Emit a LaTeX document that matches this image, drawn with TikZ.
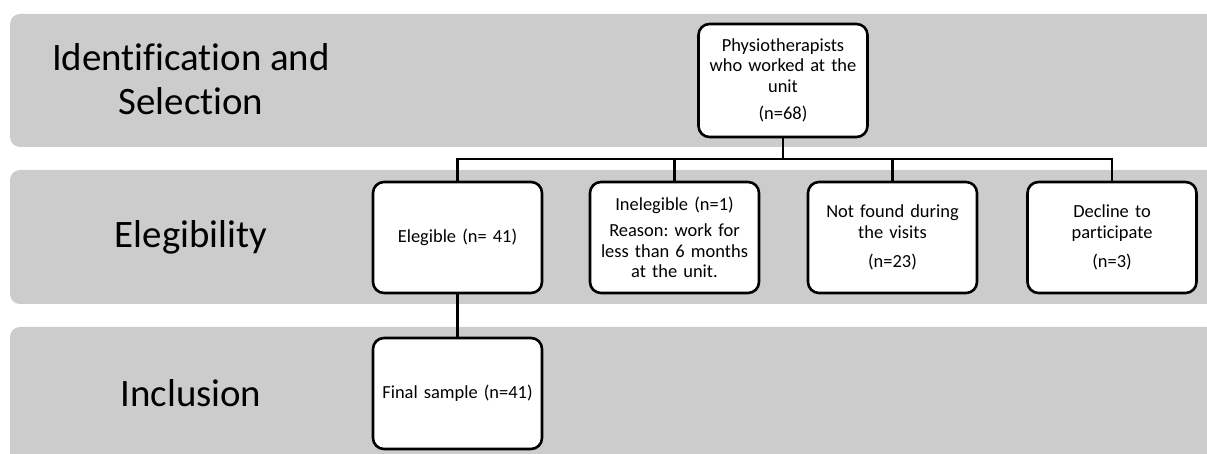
\documentclass[tikz,border=0pt]{standalone}
\usepackage{fontspec}
\setmainfont{Carlito}[Ligatures={NoCommon}]
\definecolor{bandgray}{RGB}{204,204,204}
\frenchspacing
\begin{document}
\begin{tikzpicture}[x=1bp,y=-1bp,
  band/.style={fill=bandgray, draw=none, rounded corners=10bp},
  box/.style={draw=black, line width=2.6bp, fill=white, rounded corners=11bp,
    minimum width=169bp, minimum height=111bp, text width=165bp, align=center,
    inner sep=0pt, font=\fontsize{18.5}{20.5}\selectfont},
  lbl/.style={align=center, inner sep=0pt, font=\fontsize{39}{43.5}\selectfont},
  conn/.style={line width=2.6bp}]
\useasboundingbox (0,0) rectangle (1207,454);
\begin{scope}
\clip (0,0) rectangle (1207,454);
\fill[band] (10,14) rectangle (1240,147);
\fill[band] (10,170) rectangle (1240,304);
\fill[band] (10,327) rectangle (1240,480);
\end{scope}
\node[lbl] (l1) at (191,79) {Identification and\\Selection};
\node[lbl] (l2) at (191,237) {Elegibility};
\node[lbl] (l3) at (191,393) {Inclusion};
\node[box, minimum height=113bp] (top) at (783,80.5) {Physiotherapists\\who worked at the\\unit\\[7pt](n=68)};
\node[box] (e) at (457.5,237.5) {Elegible (n= 41)};
\node[box] (i) at (674.5,237.5) {Inelegible (n=1)\\[6pt]Reason: work for\\less than 6 months\\at the unit.};
\node[box] (nf) at (892.5,237.5) {Not found during\\the visits\\[9pt](n=23)};
\node[box] (d) at (1112,237.5) {Decline to\\participate\\[9pt](n=3)};
\node[box] (f) at (457.5,393.5) {Final sample (n=41)};
\coordinate (hl) at (457.5,159);
\draw[conn] (e.north) |- (d.north |- hl) -- (d.north);
\draw[conn] (top.south) -- (top.south |- hl);
\draw[conn] (i.north) -- (i.north |- hl);
\draw[conn] (nf.north) -- (nf.north |- hl);
\draw[conn] (e.south) -- (f.north);
\end{tikzpicture}
\end{document}
